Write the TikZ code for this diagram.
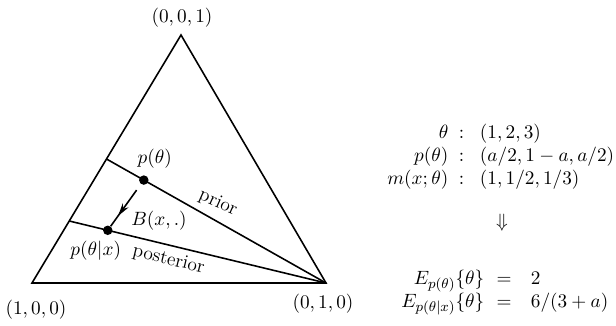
\documentclass[tikz,border=0pt]{standalone}
\usepackage{amsmath, amssymb}
\usepackage{tikz}
\usetikzlibrary{arrows.meta, calc, decorations.markings}

\begin{document}
\begin{tikzpicture}[x=0.02cm, y=-0.02cm, font=\fontsize{11}{13}\selectfont,
    edge/.style={line width=0.9pt},
    dot/.style={circle, fill, inner sep=0pt, minimum size=5.4pt},
    update/.style={line width=0.9pt, postaction={decorate},
      decoration={markings, mark=at position 0.72 with {\arrow{Stealth[length=7.5pt, width=4pt]}}}}]
  \useasboundingbox (0,0) rectangle (616,325);
  \coordinate (top) at (181,35);
  \coordinate (left) at (32,283);
  \coordinate (right) at (326,283);
  \draw[edge, line join=miter] (left) -- (top) -- (right) -- cycle;
  \node (v001) at (182,18) {$(0,0,1)$};
  \node (v100) at (36,310) {$(1,0,0)$};
  \node (v010) at (323,304) {$(0,1,0)$};

  \coordinate (mid) at ($(left)!0.5!(top)$);
  \coordinate (quart) at ($(left)!0.25!(top)$);
  \draw[edge] (mid) -- (right);
  \draw[edge] (quart) -- node[sloped, below, pos=0.4] {posterior} (right);
  \node[rotate=-24] (prlbl) at (218,203) {prior};
  \node[dot] (pd) at ($(mid)!0.17!(right)$) {};
  \node[dot] (qd) at ($(quart)!0.15!(right)$) {};
  \node (prlab) at ($(pd)+(11,-21)$) {$p(\theta)$};
  \node (polab) at ($(qd)+(-12,20)$) {$p(\theta|x)$};
  \coordinate (bstart) at ($(pd)!0.2!(qd)$);
  \draw[update] (bstart) -- (qd);
  \node (blab) at (159,221) {$B(x,.)$};

  \node[anchor=west, inner sep=0pt] (model) at (387,157)
    {$\begin{array}{@{}r@{\hspace{6pt}:\hspace{9pt}}l@{}}
      \theta & (1,2,3)\\
      p(\theta) & (a/2,1-a,a/2)\\
      m(x;\theta) & (1,1/2,1/3)
    \end{array}$};
  \node (imp) at (502,223) {$\Downarrow$};
  \node[anchor=west, inner sep=0pt] (means) at (401,292)
    {$\begin{array}{@{}r@{\hspace{7pt}=\hspace{11pt}}l@{}}
      E_{p(\theta)}\{\theta\} & 2\\
      E_{p(\theta|x)}\{\theta\} & 6/(3+a)
    \end{array}$};
\end{tikzpicture}
\end{document}
